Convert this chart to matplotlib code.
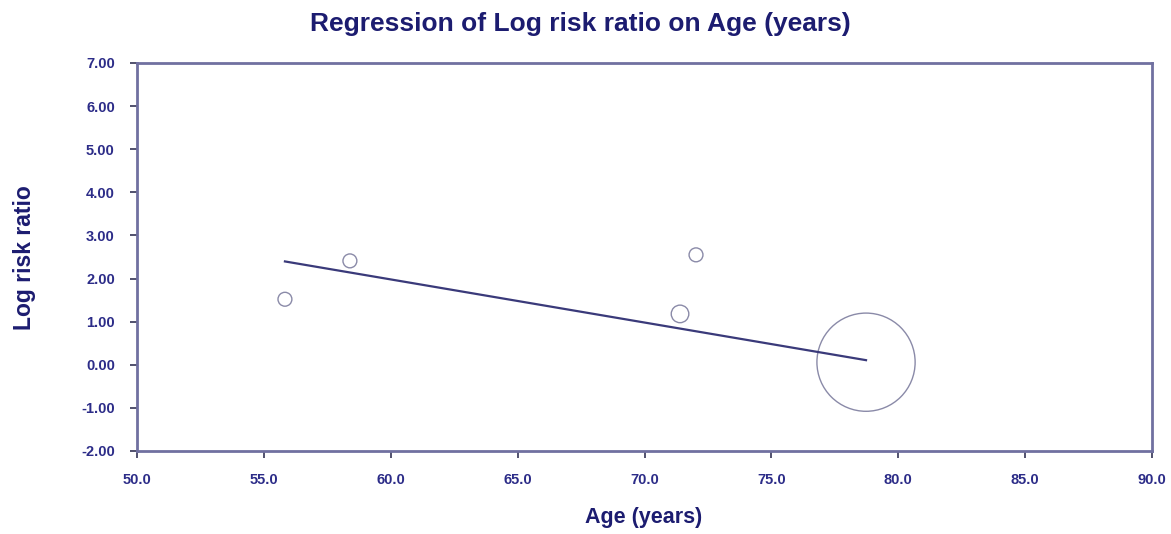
import matplotlib
matplotlib.use("Agg")
import matplotlib.pyplot as plt
import numpy as np

plt.rcParams['font.family'] = ['Liberation Sans', 'DejaVu Sans']

# Study-level data
age = [55.83, 58.39, 72.03, 71.40, 78.73]
log_rr = [1.52, 2.41, 2.55, 1.18, 0.06]
# relative study weights (drives bubble area)
weight = [1.0, 1.0, 1.0, 1.6, 50.0]

# Fitted meta-regression line
intercept = 7.98
slope = -0.1

x_ticks = [50, 55, 60, 65, 70, 75, 80, 85, 90]
y_ticks = [-2, -1, 0, 1, 2, 3, 4, 5, 6, 7]

navy = "#1c1c70"
tick_txt = "#2c2c88"
spine_col = "#7070a0"

fig = plt.figure(figsize=(11.71, 5.34), dpi=100)
ax = fig.add_axes([137 / 1171, 1 - 451 / 534, (1152 - 137) / 1171, (451 - 63) / 534])

sizes = [w * 100 for w in weight]
ax.scatter(age, log_rr, s=sizes, facecolors="none", edgecolors="#8a8aa8",
           linewidths=1.0, zorder=3)

xs = np.array([min(age), max(age)])
ax.plot(xs, intercept + slope * xs, color="#3a3a7a", linewidth=1.6, zorder=4)

ax.set_xlim(50, 90)
ax.set_ylim(-2, 7)
ax.set_xticks(x_ticks)
ax.set_yticks(y_ticks)
ax.set_xticklabels([f"{v:.1f}" for v in x_ticks])
ax.set_yticklabels([f"{v:.2f}" for v in y_ticks])

for s in ax.spines.values():
    s.set_color(spine_col)
    s.set_linewidth(2)

ax.tick_params(axis="both", direction="out", length=5, width=1.2,
               color="#333355", labelsize=10.5, labelcolor=tick_txt)
ax.tick_params(axis="y", pad=11)
ax.tick_params(axis="x", pad=11)
for lab in ax.get_xticklabels() + ax.get_yticklabels():
    lab.set_fontweight("bold")

fig.text(580 / 1171, 1 - 24 / 534, "Regression of Log risk ratio on Age (years)",
         ha="center", va="center", fontsize=19, fontweight="bold", color=navy)
fig.text(644 / 1171, 1 - 518 / 534, "Age (years)", ha="center", va="center",
         fontsize=15.5, fontweight="bold", color=navy)
fig.text(24 / 1171, 1 - 258 / 534, "Log risk ratio", ha="center", va="center",
         rotation=90, fontsize=16.5, fontweight="bold", color=navy)

fig.savefig("out.png", dpi=100)
